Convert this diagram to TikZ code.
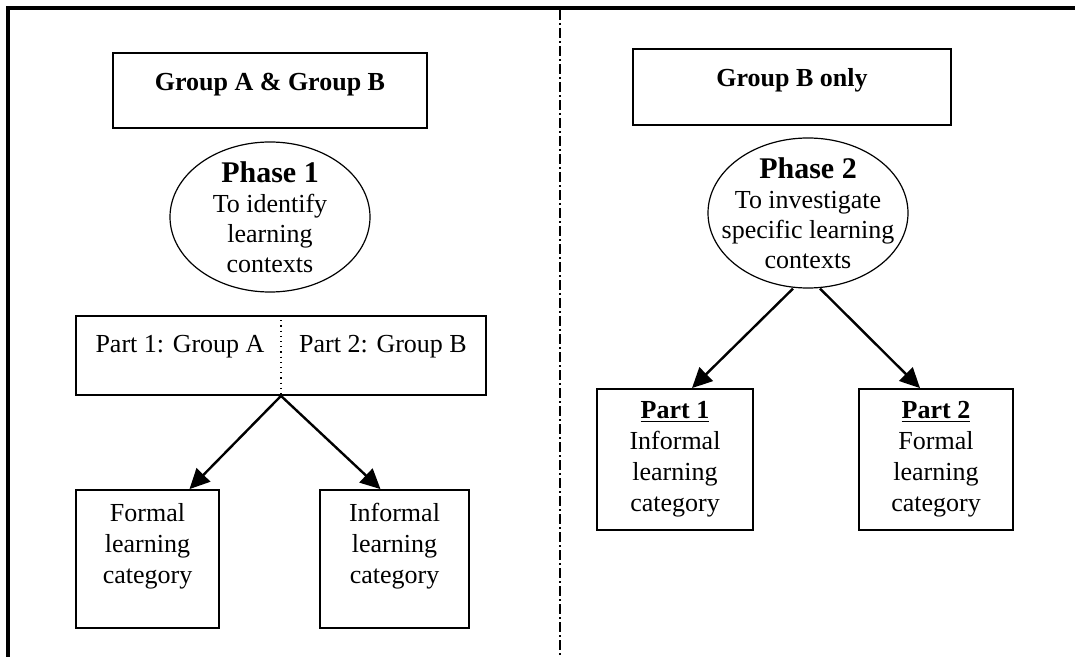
\documentclass[tikz,border=0pt]{standalone}
\usepackage{fontspec}
\setmainfont{Liberation Serif}
\usetikzlibrary{arrows.meta,shapes.geometric,positioning}

\tikzset{
	box/.style={draw, line width=0.9pt, inner sep=2pt, align=center, font=\fontsize{13}{15.5}\selectfont},
	head/.style={box, text height=9pt, text depth=9pt},
	phase/.style={draw, ellipse, line width=0.6pt, inner xsep=-8pt, inner ysep=-1.5pt, minimum width=100pt, minimum height=75pt, align=center, font=\fontsize{13}{15}\selectfont},
	arr/.style={line width=1.2pt, -{Triangle[length=10pt,width=9.5pt]}},
	lbl/.style={inner sep=1pt, font=\fontsize{13}{15.5}\selectfont},
}
\newcommand{\phasetitle}[1]{{\fontsize{15}{17}\selectfont\bfseries #1}}

\begin{document}
\begin{tikzpicture}[x=0.5pt,y=-0.5pt]
	\useasboundingbox (0,0) rectangle (1075,657);
	\fill[white] (0,0) rectangle (1075,657);

	% frame and divider
	\draw[line width=1.6pt] (8,657) -- (8,8) -- (1075,8);
	\draw[line width=0.7pt, dash pattern=on 5pt off 1.5pt on 1pt off 1.5pt] (560,10) -- (560,657);

	% left half
	\node[head, minimum width=157pt, minimum height=37.5pt] (groupab) at (270,90.5) {\textbf{Group A \& Group B}};
	\node[phase] (phase1) at (270,217) {\phasetitle{Phase 1}\\To identify\\learning\\contexts};

	\node[box, minimum width=205pt, minimum height=39.5pt] (parts) at (281,355.5) {};
	\draw[dotted, line width=0.6pt] (parts.north) -- (parts.south);
	\node[lbl] (partA) at (180,347) {Part 1: Group A};
	\node[lbl] (partB) at (383,347) {Part 2: Group B};

	\node[box, minimum width=71.5pt, minimum height=69pt] (formal) at (147.5,559) {Formal\\learning\\category\\\mbox{}};
	\node[box, minimum width=74.5pt, minimum height=69pt] (informal) at (394.5,559) {Informal\\learning\\category\\\mbox{}};

	\draw[arr] (parts.south) -- ([xshift=21pt]formal.north);
	\draw[arr] (parts.south) -- ([xshift=-7pt]informal.north);

	% right half
	\node[head, minimum width=159pt, minimum height=38pt] (groupb) at (792,87) {\textbf{Group B only}};
	\node[phase] (phase2) at (808,213) {\phasetitle{Phase 2}\\To investigate\\specific learning\\contexts};

	\node[box, minimum width=78pt, minimum height=70.5pt] (part1) at (675,459.5) {\textbf{\underline{Part 1}}\\Informal\\learning\\category};
	\node[box, minimum width=77pt, minimum height=70.5pt] (part2) at (936,459.5) {\textbf{\underline{Part 2}}\\Formal\\learning\\category};

	\draw[arr] ([xshift=-7.5pt]phase2.south) -- ([xshift=8.5pt]part1.north);
	\draw[arr] ([xshift=6pt]phase2.south) -- ([xshift=-8pt]part2.north);
\end{tikzpicture}
\end{document}
